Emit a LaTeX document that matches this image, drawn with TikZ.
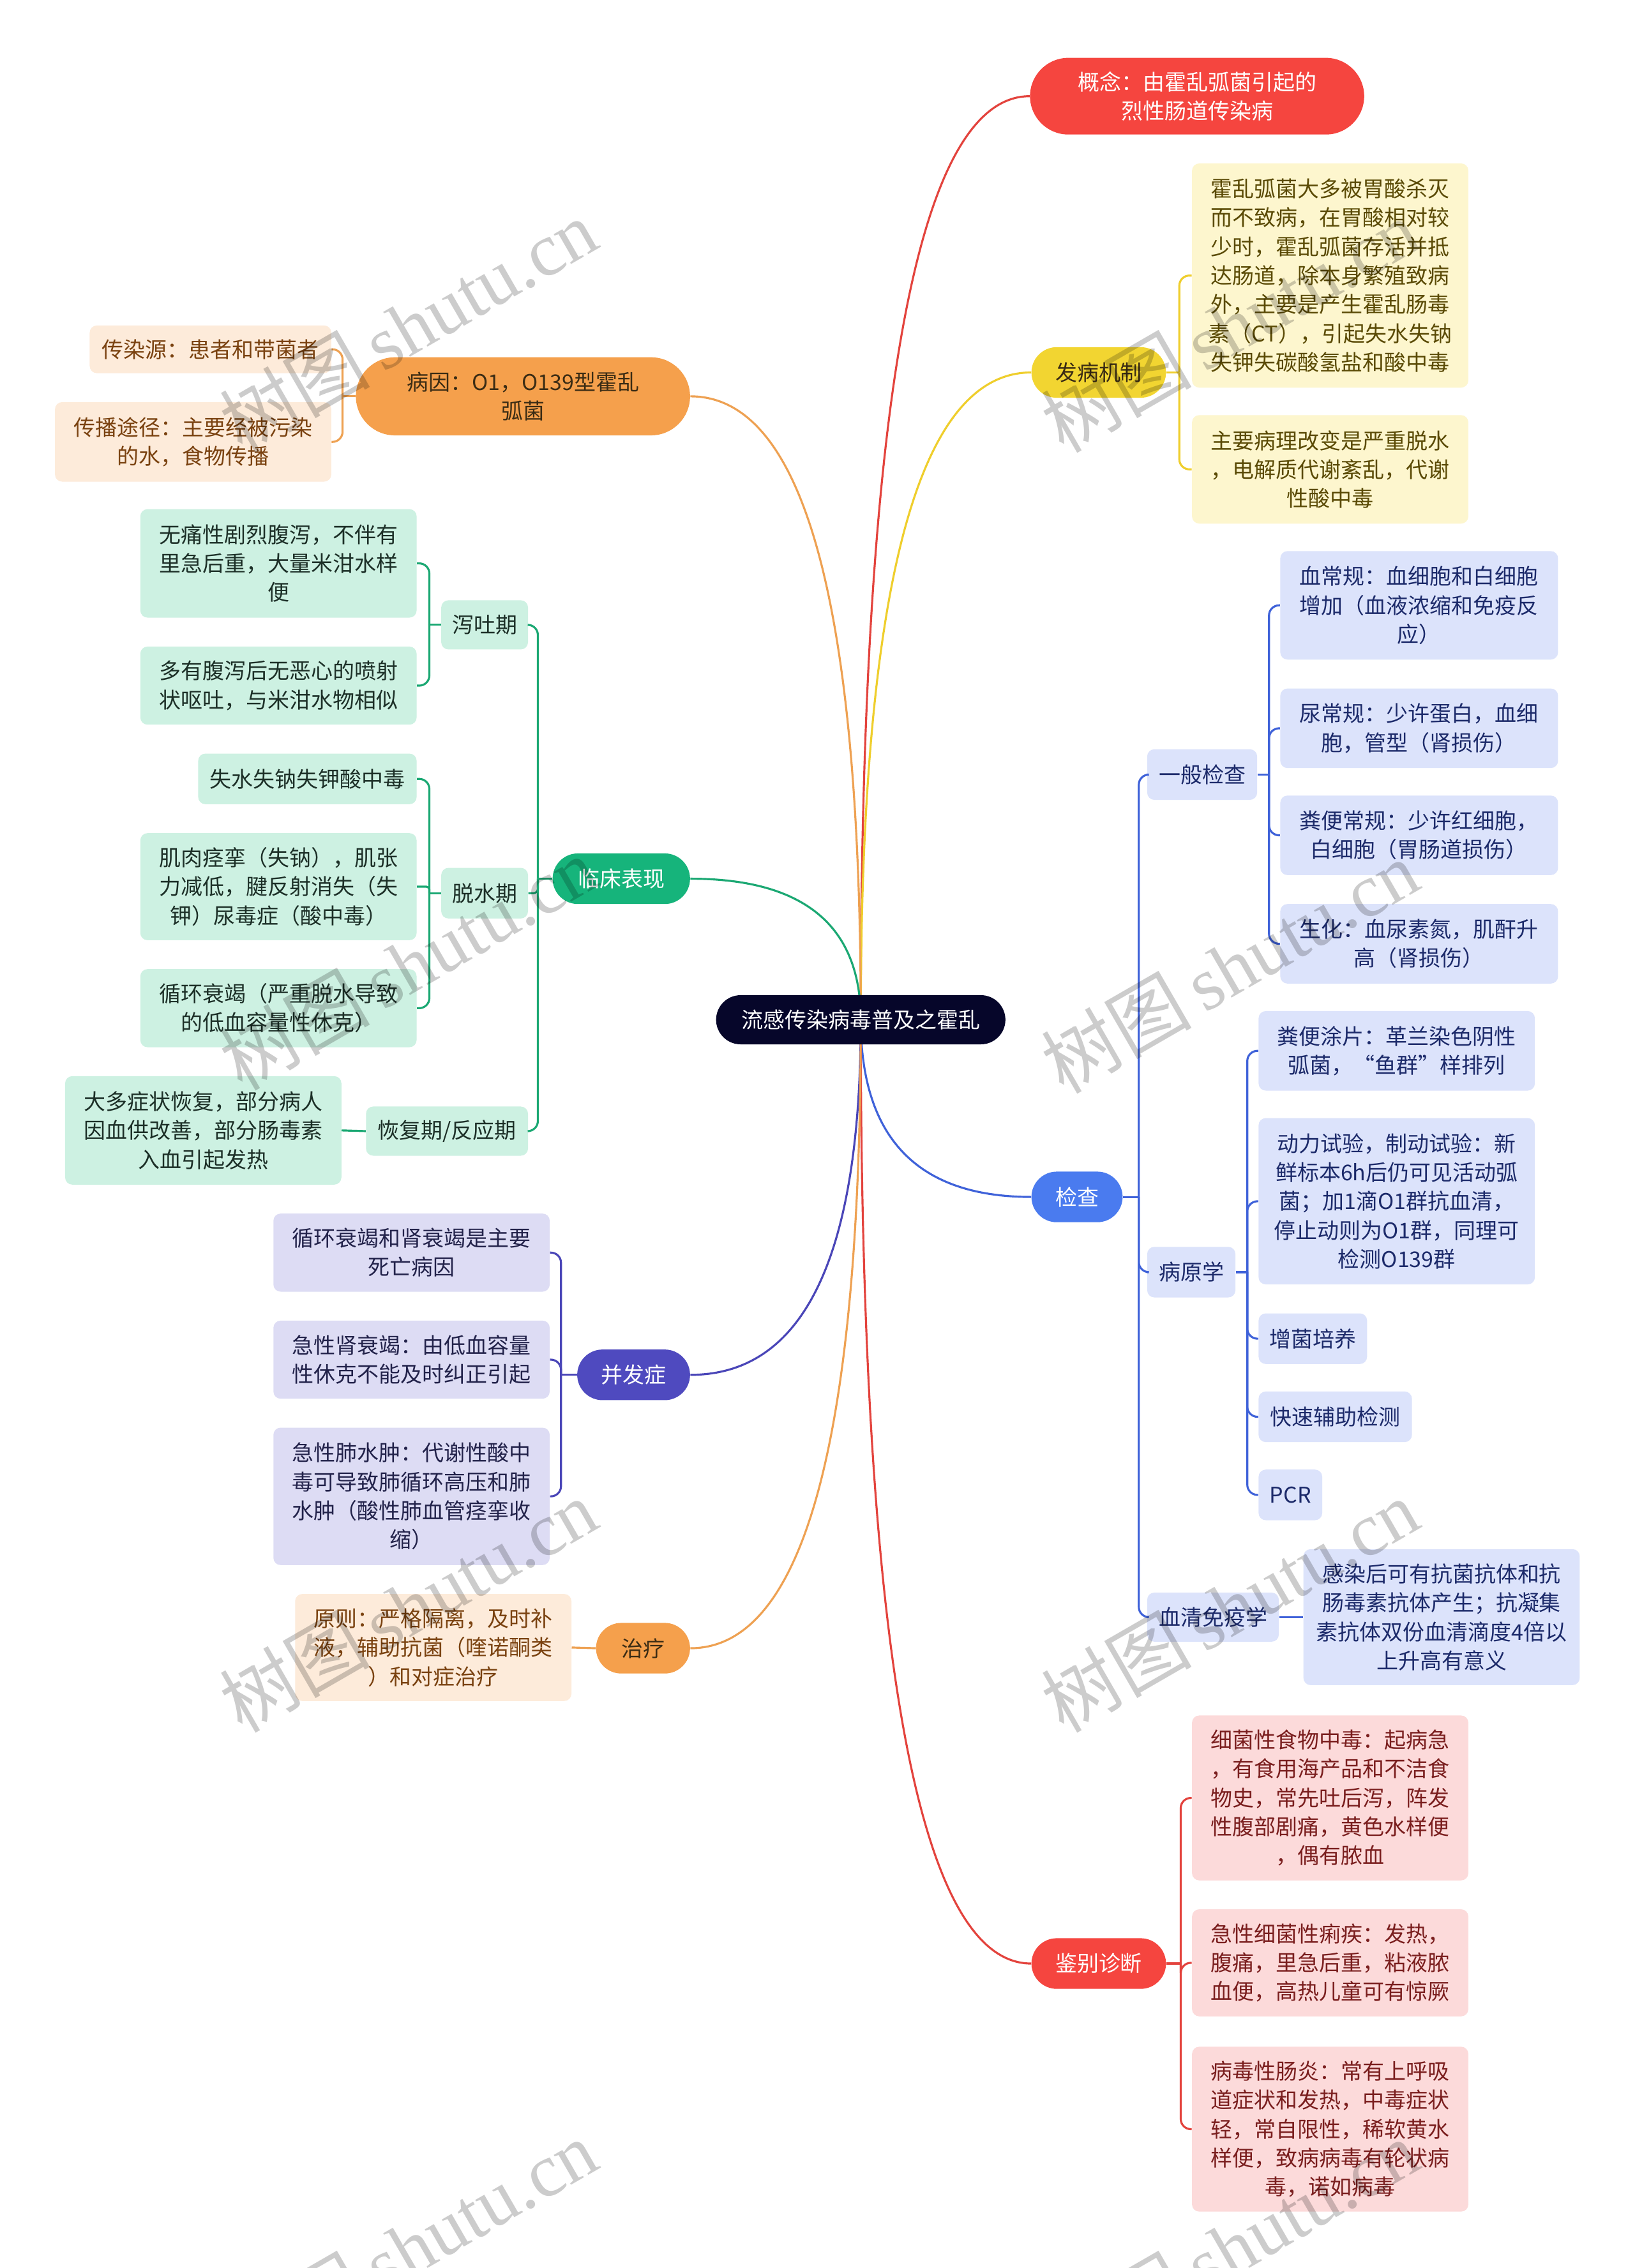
\documentclass[tikz,border=0pt]{standalone}
\usepackage{fontspec}
\setmainfont{Noto Sans CJK SC}
\newfontfamily\wmlatin{Liberation Serif}
\usetikzlibrary{shapes.misc,backgrounds,calc}
\definecolor{rootc}{HTML}{06062A}
\definecolor{redc}{HTML}{F5453F}
\definecolor{redl}{HTML}{E3433D}
\definecolor{yelc}{HTML}{F2D531}
\definecolor{yell}{HTML}{EFCE2C}
\definecolor{orac}{HTML}{F5A04C}
\definecolor{oral}{HTML}{EEA152}
\definecolor{grec}{HTML}{16B47B}
\definecolor{grel}{HTML}{1BA873}
\definecolor{indc}{HTML}{4F4ABF}
\definecolor{indl}{HTML}{4A46B8}
\definecolor{bluc}{HTML}{4A7BEF}
\definecolor{blul}{HTML}{3F62D9}
\definecolor{yfill}{HTML}{FDF6CE}
\definecolor{ytext}{HTML}{5A4A05}
\definecolor{ofill}{HTML}{FDEBDA}
\definecolor{otext}{HTML}{7A4210}
\definecolor{gfill}{HTML}{CDF1E2}
\definecolor{gtext}{HTML}{1C2F27}
\definecolor{lfill}{HTML}{DDDCF4}
\definecolor{ltext}{HTML}{22224A}
\definecolor{bfill}{HTML}{DCE3FB}
\definecolor{btext}{HTML}{1C2A6A}
\definecolor{pfill}{HTML}{FCDADA}
\definecolor{ptext}{HTML}{7A1E1E}
\definecolor{darkt}{HTML}{3B2C14}
\newcommand\brcurve[2]{%
  \coordinate (tmpc) at (root.center |- #2);
  \draw[#1] (root.center) .. controls ($(root.center)!0.667!(tmpc)$) and ($(#2)!0.667!(tmpc)$) .. (#2);}
\begin{document}
\begin{tikzpicture}[x=1pt,y=-1pt,
  txt/.style={font=\fontsize{15}{20}\selectfont, align=center},
  pill/.style={txt, rounded rectangle, inner sep=0pt},
  box/.style={txt, rectangle, rounded corners=5pt, inner sep=0pt},
  conn/.style={line width=1.4pt},
  brk/.style={line width=1.4pt, rounded corners=7pt},
  wm/.style={rotate=30, text=black, opacity=0.2, font=\fontsize{52}{52}\selectfont}]
\useasboundingbox (0,0) rectangle (1130,1568);

% root
\node[pill, fill=rootc, text=white, minimum width=200, minimum height=34] (root) at (595,705) {流感传染病毒普及之霍乱};

% main branches
\node[pill, fill=redc, text=white, minimum width=231, minimum height=53] (gn) at (827.5,66.5) {概念：由霍乱弧菌引起的\\烈性肠道传染病};
\node[pill, fill=yelc, text=darkt, minimum width=93, minimum height=35] (fb) at (759.5,257.5) {发病机制};
\node[pill, fill=bluc, text=white, minimum width=63, minimum height=35] (jc) at (744.5,827.5) {检查};
\node[pill, fill=redc, text=white, minimum width=93, minimum height=35] (jb) at (759.5,1357.5) {鉴别诊断};
\node[pill, fill=orac, text=darkt, minimum width=231, minimum height=54] (by) at (361.5,274) {病因：O1，O139型霍乱\\弧菌};
\node[pill, fill=grec, text=white, minimum width=95, minimum height=35] (lc) at (429.5,607.5) {临床表现};
\node[pill, fill=indc, text=white, minimum width=78, minimum height=35] (bf) at (438,950.5) {并发症};
\node[pill, fill=orac, text=darkt, minimum width=65, minimum height=35] (zl) at (444.5,1139.5) {治疗};

% 发病机制
\node[box, fill=yfill, text=ytext, minimum width=191, minimum height=155] (fb1) at (919.5,190.5) {霍乱弧菌大多被胃酸杀灭\\而不致病，在胃酸相对较\\少时，霍乱弧菌存活并抵\\达肠道，除本身繁殖致病\\外，主要是产生霍乱肠毒\\素（CT），引起失水失钠\\失钾失碳酸氢盐和酸中毒};
\node[box, fill=yfill, text=ytext, minimum width=191, minimum height=75] (fb2) at (919.5,324.5) {主要病理改变是严重脱水\\，电解质代谢紊乱，代谢\\性酸中毒};

% 病因
\node[box, fill=ofill, text=otext, minimum width=167, minimum height=33] (by1) at (145.5,241.5) {传染源：患者和带菌者};
\node[box, fill=ofill, text=otext, minimum width=191, minimum height=55] (by2) at (133.5,305.5) {传播途径：主要经被污染\\的水，食物传播};

% 临床表现
\node[box, fill=gfill, text=gtext, minimum width=60, minimum height=34] (xt) at (335,432) {泻吐期};
\node[box, fill=gfill, text=gtext, minimum width=60, minimum height=35] (ts) at (335,617.5) {脱水期};
\node[box, fill=gfill, text=gtext, minimum width=112, minimum height=34] (hf) at (309,782) {恢复期/反应期};
\node[box, fill=gfill, text=gtext, minimum width=191, minimum height=75] (ga) at (192.5,389.5) {无痛性剧烈腹泻，不伴有\\里急后重，大量米泔水样\\便};
\node[box, fill=gfill, text=gtext, minimum width=191, minimum height=54] (gb) at (192.5,474) {多有腹泻后无恶心的喷射\\状呕吐，与米泔水物相似};
\node[box, fill=gfill, text=gtext, minimum width=151, minimum height=35] (gc) at (212.5,538.5) {失水失钠失钾酸中毒};
\node[box, fill=gfill, text=gtext, minimum width=191, minimum height=74] (gd) at (192.5,613) {肌肉痉挛（失钠），肌张\\力减低，腱反射消失（失\\钾）尿毒症（酸中毒）};
\node[box, fill=gfill, text=gtext, minimum width=191, minimum height=54] (ge) at (192.5,697) {循环衰竭（严重脱水导致\\的低血容量性休克）};
\node[box, fill=gfill, text=gtext, minimum width=191, minimum height=75] (gf) at (140.5,781.5) {大多症状恢复，部分病人\\因血供改善，部分肠毒素\\入血引起发热};

% 并发症
\node[box, fill=lfill, text=ltext, minimum width=191, minimum height=54] (bf1) at (284.5,866) {循环衰竭和肾衰竭是主要\\死亡病因};
\node[box, fill=lfill, text=ltext, minimum width=191, minimum height=54] (bf2) at (284.5,940) {急性肾衰竭：由低血容量\\性休克不能及时纠正引起};
\node[box, fill=lfill, text=ltext, minimum width=191, minimum height=95] (bf3) at (284.5,1034.5) {急性肺水肿：代谢性酸中\\毒可导致肺循环高压和肺\\水肿（酸性肺血管痉挛收\\缩）};

% 治疗
\node[box, fill=ofill, text=otext, minimum width=191, minimum height=74] (zl1) at (299.5,1139) {原则：严格隔离，及时补\\液，辅助抗菌（喹诺酮类\\）和对症治疗};

% 检查
\node[box, fill=bfill, text=btext, minimum width=76, minimum height=35] (yb) at (831,535.5) {一般检查};
\node[box, fill=bfill, text=btext, minimum width=61, minimum height=35] (byx) at (823.5,879.5) {病原学};
\node[box, fill=bfill, text=btext, minimum width=91, minimum height=34] (xq) at (838.5,1118) {血清免疫学};
\node[box, fill=bfill, text=btext, minimum width=192, minimum height=75] (k1) at (981,418.5) {血常规：血细胞和白细胞\\增加（血液浓缩和免疫反\\应）};
\node[box, fill=bfill, text=btext, minimum width=192, minimum height=55] (k2) at (981,503.5) {尿常规：少许蛋白，血细\\胞，管型（肾损伤）};
\node[box, fill=bfill, text=btext, minimum width=192, minimum height=55] (k3) at (981,577.5) {粪便常规：少许红细胞，\\白细胞（胃肠道损伤）};
\node[box, fill=bfill, text=btext, minimum width=192, minimum height=55] (k4) at (981,652.5) {生化：血尿素氮，肌酐升\\高（肾损伤）};
\node[box, fill=bfill, text=btext, minimum width=191, minimum height=55] (p1) at (965.5,726.5) {粪便涂片：革兰染色阴性\\弧菌，“鱼群”样排列};
\node[box, fill=bfill, text=btext, minimum width=191, minimum height=115] (p2) at (965.5,830.5) {动力试验，制动试验：新\\鲜标本6h后仍可见活动弧\\菌；加1滴O1群抗血清，\\停止动则为O1群，同理可\\检测O139群};
\node[box, fill=bfill, text=btext, minimum width=75, minimum height=35] (p3) at (907.5,925.5) {增菌培养};
\node[box, fill=bfill, text=btext, minimum width=106, minimum height=35] (p4) at (923,979.5) {快速辅助检测};
\node[box, fill=bfill, text=btext, minimum width=44, minimum height=35] (p5) at (892,1033.5) {PCR};
\node[box, fill=bfill, text=btext, minimum width=191, minimum height=94] (x1) at (996.5,1118) {感染后可有抗菌抗体和抗\\肠毒素抗体产生；抗凝集\\素抗体双份血清滴度4倍以\\上升高有意义};

% 鉴别诊断
\node[box, fill=pfill, text=ptext, minimum width=191, minimum height=114] (j1) at (919.5,1243) {细菌性食物中毒：起病急\\，有食用海产品和不洁食\\物史，常先吐后泻，阵发\\性腹部剧痛，黄色水样便\\，偶有脓血};
\node[box, fill=pfill, text=ptext, minimum width=191, minimum height=74] (j2) at (919.5,1357) {急性细菌性痢疾：发热，\\腹痛，里急后重，粘液脓\\血便，高热儿童可有惊厥};
\node[box, fill=pfill, text=ptext, minimum width=191, minimum height=114] (j3) at (919.5,1472) {病毒性肠炎：常有上呼吸\\道症状和发热，中毒症状\\轻，常自限性，稀软黄水\\样便，致病病毒有轮状病\\毒，诺如病毒};

% junctions
\path (fb.east) ++(9,0) coordinate (fbj);
\path (by.west) ++(-9,0) coordinate (byj);
\path (lc.west) ++(-10,0) coordinate (lcj);
\path (xt.west) ++(-8,0) coordinate (xtj);
\path (ts.west) ++(-8,0) coordinate (tsj);
\path (bf.west) ++(-11,0) coordinate (bfj);
\path (jc.east) ++(11,0) coordinate (jcj);
\path (yb.east) ++(8,0) coordinate (ybj);
\path (byx.east) ++(8,0) coordinate (byxj);
\path (jb.east) ++(10,0) coordinate (jbj);

\begin{scope}[on background layer]
  \fill[white] (0,0) rectangle (1130,1568);
  \brcurve{conn, redl}{gn.west}
  \brcurve{conn, yell}{fb.west}
  \brcurve{conn, blul}{jc.west}
  \brcurve{conn, redl}{jb.west}
  \brcurve{conn, oral}{by.east}
  \brcurve{conn, grel}{lc.east}
  \brcurve{conn, indl}{bf.east}
  \brcurve{conn, oral}{zl.east}
\end{scope}

% 发病机制 bracket
\draw[conn, yell] (fb.east) -- (fbj);
\draw[brk, yell] (fbj) |- (fb1.west);
\draw[brk, yell] (fbj) |- (fb2.west);
% 病因 bracket
\draw[conn, oral] (by.west) -- (byj);
\draw[brk, oral] (byj) |- (by1.east);
\draw[brk, oral] (byj) |- (by2.east);
% 临床表现
\draw[conn, grel] (lc.west) -- (lcj);
\draw[brk, grel] (lcj) |- (xt.east);
\draw[brk, grel, rounded corners=3pt] (lcj) |- (ts.east);
\draw[brk, grel] (lcj) |- (hf.east);
\draw[conn, grel] (xt.west) -- (xtj);
\draw[brk, grel] (xtj) |- (ga.east);
\draw[brk, grel] (xtj) |- (gb.east);
\draw[conn, grel] (ts.west) -- (tsj);
\draw[brk, grel] (tsj) |- (gc.east);
\draw[brk, grel, rounded corners=2pt] (tsj) |- (gd.east);
\draw[brk, grel] (tsj) |- (ge.east);
\draw[conn, grel] (hf.west) -- (gf.east);
% 并发症
\draw[conn, indl] (bf.west) -- (bfj);
\draw[brk, indl] (bfj) |- (bf1.east);
\draw[brk, indl] (bfj) |- (bf2.east);
\draw[brk, indl] (bfj) |- (bf3.east);
% 治疗
\draw[conn, oral] (zl.west) -- (zl1.east);
% 检查
\draw[conn, blul] (jc.east) -- (jcj);
\draw[brk, blul] (jcj) |- (yb.west);
\draw[brk, blul] (jcj) |- (byx.west);
\draw[brk, blul] (jcj) |- (xq.west);
\draw[conn, blul] (yb.east) -- (ybj);
\draw[brk, blul] (ybj) |- (k1.west);
\draw[brk, blul] (ybj) |- (k2.west);
\draw[brk, blul] (ybj) |- (k3.west);
\draw[brk, blul] (ybj) |- (k4.west);
\draw[conn, blul] (byx.east) -- (byxj);
\draw[brk, blul] (byxj) |- (p1.west);
\draw[brk, blul] (byxj) |- (p2.west);
\draw[brk, blul] (byxj) |- (p3.west);
\draw[brk, blul] (byxj) |- (p4.west);
\draw[brk, blul] (byxj) |- (p5.west);
\draw[conn, blul] (xq.east) -- (x1.west);
% 鉴别诊断
\draw[conn, redl] (jb.east) -- (jbj);
\draw[brk, redl] (jbj) |- (j1.west);
\draw[brk, redl] (jbj) |- (j2.west);
\draw[brk, redl] (jbj) |- (j3.west);

% watermarks
\foreach \wx/\wy [count=\i] in {282/225, 282/666, 282/1110, 282/1553, 850/225, 850/668, 850/1110, 850/1553}
  \node[wm] (wm\i) at (\wx,\wy) {树图\,{\wmlatin shutu.cn}};
\end{tikzpicture}
\end{document}
